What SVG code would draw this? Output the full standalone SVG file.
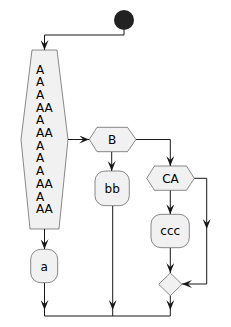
<svg xmlns="http://www.w3.org/2000/svg" width="231" height="327" viewBox="0 0 231 327">
<style>
.n{fill:#F1F1F1;stroke:#181818;stroke-width:0.5}
.t{font-family:"DejaVu Sans",sans-serif;font-size:12px;fill:#000}
.c{fill:none;stroke:#181818;stroke-width:1}
</style>
<defs>
<marker id="ah" viewBox="0 0 10 8" refX="10" refY="4" markerWidth="10" markerHeight="8" markerUnits="userSpaceOnUse" orient="auto">
<path d="M0,0 L10,4 L0,8 L4,4 Z" fill="#181818"/>
</marker>
</defs>
<rect width="231" height="327" fill="#FFFFFF"/>
<g id="connectors">
<path class="c" d="M124,30 V35 H44.5 V50" marker-end="url(#ah)"/>
<path class="c" d="M44.5,229 V249.3" marker-end="url(#ah)"/>
<path class="c" d="M68,139.5 H89.3" marker-end="url(#ah)"/>
<path class="c" d="M111.7,151.7 V171" marker-end="url(#ah)"/>
<path class="c" d="M136,139.5 H170.3 V166" marker-end="url(#ah)"/>
<path class="c" d="M170.3,190.3 V214.3" marker-end="url(#ah)"/>
<path class="c" d="M170.3,247.7 V273" marker-end="url(#ah)"/>
<path class="c" d="M194.3,178.3 H206.7 V229" marker-end="url(#ah)"/>
<path class="c" d="M206.7,229 V284 H182" marker-end="url(#ah)"/>
<path class="c" d="M44.5,282.7 V310" marker-end="url(#ah)"/>
<path class="c" d="M112.7,205.7 V310" marker-end="url(#ah)"/>
<path class="c" d="M170.3,295.7 V310" marker-end="url(#ah)"/>
<path class="c" d="M44.5,310 V316 H170.3 V310 M112.7,310 V316"/>
</g>
<g id="start"><circle cx="124" cy="20" r="10" fill="#222222"/></g>
<g id="whileA">
<polygon class="n" points="32,50 57,50 68,139.5 59,229 30,229 21,139.5"/>
<text class="t" x="36" y="73.5">A</text>
<text class="t" x="36" y="86.2">A</text>
<text class="t" x="36" y="98.9">A</text>
<text class="t" x="36" y="111.6">AA</text>
<text class="t" x="36" y="124.3">A</text>
<text class="t" x="36" y="137">AA</text>
<text class="t" x="36" y="149.7">A</text>
<text class="t" x="36" y="162.4">A</text>
<text class="t" x="36" y="175.1">A</text>
<text class="t" x="36" y="187.8">AA</text>
<text class="t" x="36" y="200.5">A</text>
<text class="t" x="36" y="213.2">AA</text>
</g>
<g id="a">
<rect class="n" x="30.7" y="249.3" width="27" height="33.4" rx="10"/>
<text class="t" x="44.2" y="270.5" text-anchor="middle">a</text>
</g>
<g id="B">
<polygon class="n" points="89.3,139.5 97,127.3 127.5,127.3 136,139.5 127.5,151.7 97,151.7"/>
<text class="t" x="112" y="143.8" text-anchor="middle">B</text>
</g>
<g id="bb">
<rect class="n" x="95" y="171" width="34.3" height="34.7" rx="10"/>
<text class="t" x="112.2" y="192.5" text-anchor="middle">bb</text>
</g>
<g id="CA">
<polygon class="n" points="146.7,178.3 154.5,166 186.5,166 194.3,178.3 186.5,190.3 154.5,190.3"/>
<text class="t" x="170.5" y="182.6" text-anchor="middle">CA</text>
</g>
<g id="ccc">
<rect class="n" x="151" y="214.3" width="38.3" height="33.4" rx="10"/>
<text class="t" x="170.2" y="235.3" text-anchor="middle">ccc</text>
</g>
<g id="merge">
<polygon class="n" points="170.3,273 182,284.3 170.3,295.7 158.7,284.3"/>
</g>
</svg>
